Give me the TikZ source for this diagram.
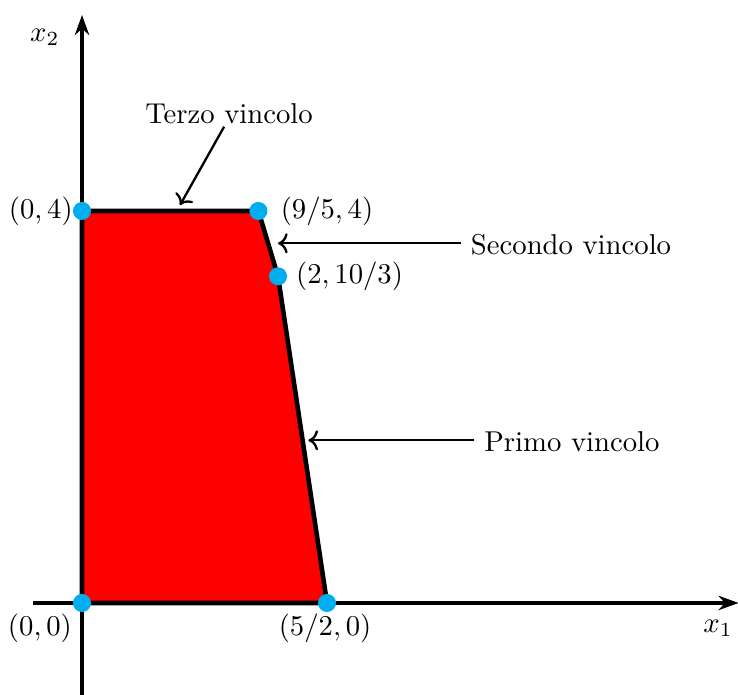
\documentclass[tikz,border=0pt]{standalone}
\usetikzlibrary{arrows.meta}
\definecolor{dotblue}{RGB}{0,174,239}
\begin{document}
\begin{tikzpicture}[x=1.2cm,y=1.2cm,
  axis/.style={line width=1.4pt,-{Stealth[length=7pt,width=5pt]}},
  region/.style={fill=red,draw=black,line width=1.6pt,line join=miter},
  dot/.style={circle,fill=dotblue,inner sep=0pt,minimum size=6.3pt},
  pointer/.style={thick,->},
  lbl/.style={inner sep=2pt}]
\useasboundingbox (-0.837,-0.939) rectangle (6.694,6.153);
% feasible region
\coordinate (O) at (0,0);
\coordinate (A) at (0,4);
\coordinate (B) at (1.8,4);
\coordinate (C) at (2,10/3);
\coordinate (D) at (2.5,0);
\draw[region] (O) -- (A) -- (B) -- (C) -- (D) -- cycle;
% axes
\coordinate (xs) at (-0.5,0);
\coordinate (xe) at (6.7,0);
\coordinate (ys) at (0,-0.95);
\coordinate (ye) at (0,6.0);
\draw[axis] (xs) -- (xe);
\draw[axis] (ys) -- (ye);
\node (x1) at (6.49,-0.26) {$x_1$};
\node (x2) at (-0.38,5.77) {$x_2$};
% vertices
\node[dot] (pO) at (O) {};
\node[dot] (pA) at (A) {};
\node[dot] (pB) at (B) {};
\node[dot] (pC) at (C) {};
\node[dot] (pD) at (D) {};
\node[lbl] (lO) at (-0.43,-0.26) {$(0,0)$};
\node[lbl] (lA) at (-0.42,4.0) {$(0,4)$};
\node[lbl] (lB) at (2.5,4.0) {$(9/5,4)$};
\node[lbl] (lC) at (2.73,3.33) {$(2,10/3)$};
\node[lbl] (lD) at (2.48,-0.26) {$(5/2,0)$};
% constraint labels
\node (t3) at (1.5,4.99) {Terzo vincolo};
\node (t2) at (4.99,3.66) {Secondo vincolo};
\node (t1) at (5.0,1.65) {Primo vincolo};
\coordinate (s3) at (1.45,4.86);
\coordinate (e3) at (1.0,4.06);
\coordinate (e2) at (2.0,3.67);
\coordinate (e1) at (2.31,1.66);
\draw[pointer] (s3) -- (e3);
\draw[pointer] (t2.west |- e2) -- (e2);
\draw[pointer] (t1.west |- e1) -- (e1);
\end{tikzpicture}
\end{document}
